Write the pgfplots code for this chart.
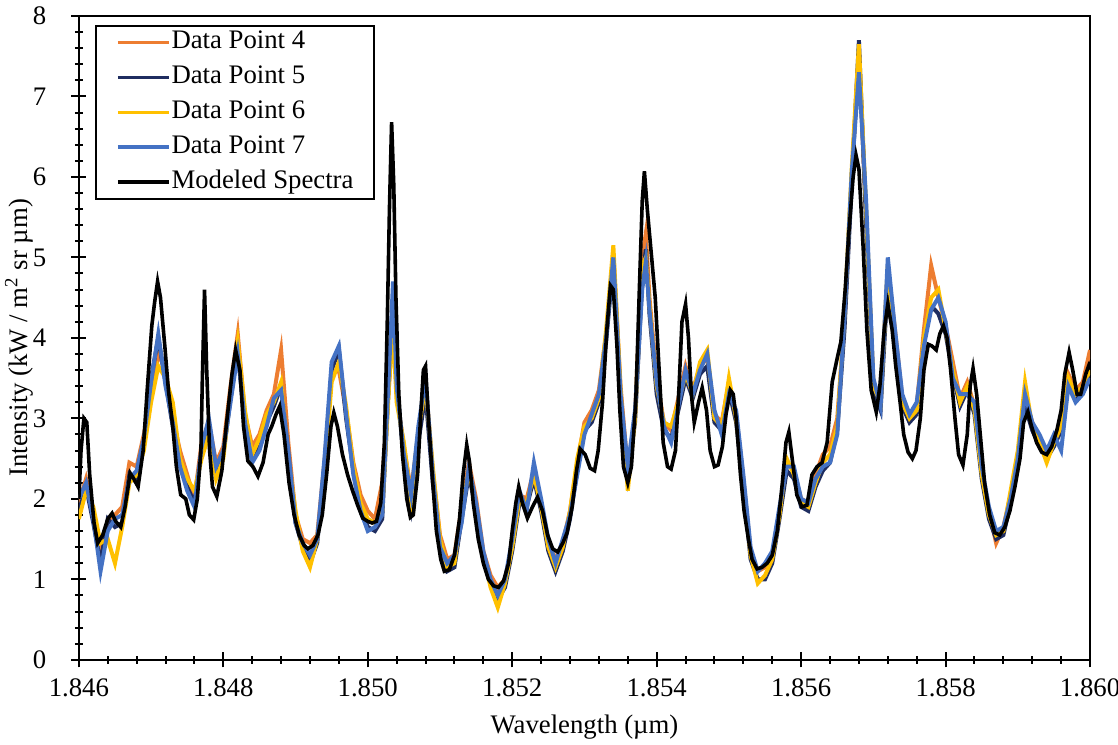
\documentclass[border=0pt]{standalone}
\usepackage{fontspec}
\setmainfont{Liberation Serif}
\usepackage{pgfplots}
\usepackage{pgfplotstable}
\pgfplotsset{compat=1.18}
\definecolor{c4}{RGB}{237,125,49}
\definecolor{c5}{RGB}{31,45,96}
\definecolor{c6}{RGB}{255,192,0}
\definecolor{c7}{RGB}{68,114,196}

\pgfplotstableread{
x d4 d5 d6 d7
1.8460 1.95 1.85 1.75 2.0
1.8461 2.25 2.15 2.1 2.2
1.8462 1.85 1.7 1.9 1.75
1.8463 1.35 1.2 1.45 1.1
1.8464 1.7 1.75 1.5 1.6
1.8465 1.8 1.65 1.2 1.75
1.8466 1.9 1.7 1.65 1.8
1.8467 2.45 2.3 2.2 2.25
1.8468 2.4 2.2 2.3 2.35
1.8469 2.8 2.65 2.6 2.75
1.8470 3.3 3.5 3.2 3.45
1.8471 3.8 4.0 3.65 4.05
1.8472 3.6 3.45 3.5 3.4
1.8473 3.0 2.9 3.2 2.95
1.8474 2.6 2.45 2.5 2.4
1.8475 2.3 2.15 2.25 2.1
1.8476 2.0 1.95 2.1 1.9
1.8477 2.7 2.6 2.5 2.65
1.8478 2.95 2.85 2.8 3.0
1.8479 2.45 2.3 2.25 2.4
1.8480 2.65 2.55 2.5 2.6
1.8481 3.4 3.25 3.3 3.2
1.8482 4.05 3.85 3.95 3.8
1.8483 3.05 2.9 3.1 2.95
1.8484 2.65 2.5 2.55 2.45
1.8485 2.8 2.65 2.75 2.6
1.8486 3.1 2.95 3.05 2.9
1.8487 3.3 3.15 3.2 3.25
1.8488 3.85 3.4 3.45 3.35
1.8489 2.7 2.55 2.5 2.6
1.8490 1.8 1.7 1.85 1.7
1.8491 1.5 1.4 1.35 1.45
1.8492 1.45 1.2 1.15 1.3
1.8493 1.55 1.45 1.5 1.5
1.8494 2.45 2.35 2.3 2.5
1.8495 3.55 3.6 3.45 3.7
1.8496 3.6 3.85 3.7 3.9
1.8497 3.1 3.0 3.15 3.05
1.8498 2.45 2.35 2.4 2.3
1.8499 2.05 1.9 1.95 1.85
1.8500 1.85 1.65 1.75 1.6
1.8501 1.75 1.6 1.7 1.65
1.8502 2.2 1.75 1.85 1.8
1.8503 3.5 3.6 3.5 3.7
1.85035 4.3 4.5 4.1 4.7
1.8504 3.3 3.4 3.2 3.4
1.8505 2.65 2.5 2.7 2.55
1.8506 2.1 1.9 2.0 2.05
1.8507 2.8 2.7 2.85 2.9
1.8508 3.45 3.3 3.4 3.5
1.8509 2.35 2.2 2.4 2.3
1.8510 1.55 1.45 1.5 1.4
1.8511 1.25 1.1 1.15 1.2
1.8512 1.3 1.15 1.2 1.3
1.8513 1.9 1.75 1.85 1.7
1.8514 2.45 2.3 2.35 2.4
1.8515 2.0 1.85 1.9 1.95
1.8516 1.35 1.25 1.3 1.35
1.8517 1.05 0.95 0.9 1.0
1.8518 0.9 0.75 0.65 0.8
1.8519 1.0 0.9 0.95 1.0
1.8520 1.45 1.35 1.4 1.5
1.8521 2.05 1.95 2.0 2.1
1.8522 2.0 1.9 1.95 1.85
1.8523 2.35 2.25 2.3 2.45
1.8524 1.95 1.85 1.9 2.0
1.8525 1.45 1.35 1.4 1.5
1.8526 1.25 1.1 1.15 1.2
1.8527 1.45 1.35 1.4 1.5
1.8528 1.85 1.75 1.85 1.8
1.8529 2.45 2.35 2.5 2.3
1.8530 2.95 2.85 2.9 2.8
1.8531 3.1 2.95 3.0 3.05
1.8532 3.35 3.2 3.25 3.3
1.8533 4.05 3.95 4.1 4.0
1.8534 5.05 4.95 5.15 5.0
1.8535 3.4 3.25 3.35 3.3
1.8536 2.35 2.3 2.1 2.4
1.8537 3.05 2.95 3.0 3.1
1.8538 5.0 4.7 4.9 4.6
1.85385 5.3 5.1 5.0 4.95
1.8539 4.5 4.3 4.4 4.35
1.8540 3.5 3.3 3.4 3.45
1.8541 2.95 2.85 2.95 2.9
1.8542 2.85 2.75 2.9 2.7
1.8543 3.25 3.1 3.2 3.15
1.8544 3.65 3.5 3.55 3.6
1.8545 3.35 3.25 3.3 3.3
1.8546 3.65 3.55 3.7 3.6
1.8547 3.75 3.65 3.85 3.8
1.8548 3.05 2.95 3.0 3.1
1.8549 2.95 2.85 2.9 2.8
1.8550 3.45 3.35 3.5 3.3
1.8551 3.05 2.95 3.0 3.1
1.8552 2.25 2.15 2.2 2.3
1.8553 1.35 1.25 1.3 1.4
1.8554 1.1 1.0 0.95 1.1
1.8555 1.15 1.0 1.05 1.2
1.8556 1.3 1.2 1.25 1.35
1.8557 1.85 1.75 1.8 1.9
1.8558 2.45 2.35 2.5 2.4
1.8559 2.35 2.25 2.3 2.4
1.8560 2.0 1.9 1.95 2.0
1.8561 1.95 1.85 1.9 1.95
1.8562 2.3 2.15 2.2 2.25
1.8563 2.55 2.35 2.45 2.4
1.8564 2.65 2.45 2.55 2.45
1.8565 3.0 2.85 2.9 2.8
1.8566 4.2 4.1 4.3 4.25
1.8567 6.0 5.9 6.1 6.05
1.8568 7.55 7.7 7.65 7.3
1.8569 5.5 5.4 5.6 5.7
1.8570 3.45 3.35 3.4 3.5
1.8571 3.25 3.1 3.2 3.15
1.8572 4.85 4.7 4.9 5.0
1.8573 4.1 3.95 4.0 4.1
1.8574 3.25 3.15 3.2 3.3
1.8575 3.05 2.95 3.0 3.05
1.8576 3.15 3.05 3.1 3.2
1.8577 4.1 3.95 4.0 3.9
1.8578 4.9 4.4 4.5 4.35
1.8579 4.5 4.3 4.6 4.5
1.8580 4.15 4.05 4.1 4.2
1.8581 3.7 3.55 3.6 3.5
1.8582 3.25 3.15 3.2 3.3
1.8583 3.45 3.35 3.4 3.3
1.8584 3.15 3.05 3.1 3.2
1.8585 2.35 2.25 2.3 2.4
1.8586 1.85 1.75 1.8 1.9
1.8587 1.45 1.5 1.55 1.6
1.8588 1.65 1.55 1.6 1.65
1.8589 2.05 1.95 2.1 2.0
1.8590 2.55 2.45 2.6 2.5
1.8591 3.25 3.15 3.45 3.3
1.8592 2.95 2.85 2.9 2.95
1.8593 2.75 2.65 2.7 2.8
1.8594 2.6 2.5 2.45 2.6
1.8595 2.75 2.65 2.7 2.8
1.8596 2.95 2.85 2.9 2.6
1.8597 3.55 3.45 3.5 3.4
1.8598 3.35 3.25 3.3 3.2
1.8599 3.45 3.35 3.4 3.3
1.8600 3.85 3.55 3.6 3.5
}\datatab

\pgfplotstableread{
x y
1.84600 2.0
1.84603 2.6
1.84607 3.0
1.84611 2.95
1.84615 2.3
1.84621 1.7
1.84626 1.45
1.84633 1.55
1.84640 1.75
1.84646 1.82
1.84651 1.72
1.84658 1.65
1.84664 1.9
1.84671 2.32
1.84676 2.25
1.84682 2.15
1.84689 2.6
1.84695 3.4
1.84701 4.15
1.84705 4.45
1.84709 4.7
1.84713 4.5
1.84719 3.9
1.84724 3.35
1.84730 2.9
1.84735 2.4
1.84741 2.05
1.84748 2.0
1.84753 1.8
1.84759 1.74
1.84764 2.0
1.84769 2.6
1.84771 3.5
1.84774 4.6
1.84777 3.6
1.84781 2.6
1.84785 2.15
1.84791 2.03
1.84798 2.35
1.84804 2.9
1.84812 3.55
1.84817 3.85
1.84823 3.6
1.84828 2.9
1.84834 2.47
1.84841 2.4
1.84848 2.28
1.84855 2.45
1.84862 2.8
1.84867 2.9
1.84873 3.05
1.84878 3.15
1.84884 2.8
1.84891 2.2
1.84898 1.8
1.84905 1.55
1.84912 1.42
1.84917 1.38
1.84924 1.42
1.84931 1.55
1.84937 1.8
1.84943 2.3
1.84949 2.9
1.84953 3.07
1.84958 2.9
1.84965 2.55
1.84972 2.3
1.84979 2.1
1.84986 1.92
1.84993 1.76
1.85000 1.72
1.85006 1.7
1.85012 1.72
1.85018 1.95
1.85023 2.7
1.85027 4.2
1.85030 5.6
1.85033 6.68
1.85036 5.9
1.85039 4.5
1.85043 3.3
1.85048 2.55
1.85054 2.0
1.85059 1.77
1.85063 1.8
1.85069 2.3
1.85073 3.0
1.85077 3.6
1.85080 3.65
1.85084 3.0
1.85090 2.2
1.85095 1.6
1.85101 1.25
1.85106 1.1
1.85113 1.12
1.85120 1.3
1.85127 1.75
1.85132 2.3
1.85137 2.67
1.85141 2.45
1.85146 1.95
1.85153 1.5
1.85160 1.2
1.85167 1.0
1.85174 0.92
1.85181 0.9
1.85188 0.98
1.85195 1.2
1.85200 1.6
1.85205 1.95
1.85209 2.15
1.85214 1.95
1.85221 1.76
1.85228 1.9
1.85235 2.02
1.85242 1.85
1.85249 1.55
1.85256 1.38
1.85263 1.34
1.85270 1.45
1.85276 1.58
1.85283 1.9
1.85289 2.35
1.85294 2.62
1.85301 2.55
1.85308 2.38
1.85314 2.35
1.85319 2.6
1.85325 3.2
1.85331 4.1
1.85336 4.65
1.85340 4.6
1.85345 3.9
1.85349 3.1
1.85354 2.4
1.85360 2.2
1.85365 2.4
1.85371 3.2
1.85376 4.6
1.85380 5.7
1.85383 6.07
1.85387 5.6
1.85393 5.0
1.85398 4.5
1.85404 3.5
1.85409 2.7
1.85415 2.4
1.85420 2.37
1.85426 2.6
1.85431 3.4
1.85435 4.2
1.85440 4.42
1.85444 4.0
1.85448 3.3
1.85452 2.95
1.85458 3.2
1.85463 3.38
1.85469 3.1
1.85474 2.6
1.85480 2.4
1.85485 2.42
1.85491 2.65
1.85496 3.05
1.85502 3.35
1.85506 3.3
1.85510 3.0
1.85516 2.3
1.85521 1.85
1.85527 1.5
1.85532 1.25
1.85539 1.13
1.85546 1.15
1.85553 1.2
1.85560 1.3
1.85567 1.6
1.85574 2.2
1.85579 2.7
1.85583 2.83
1.85589 2.4
1.85594 2.05
1.85601 1.9
1.85608 1.92
1.85615 2.3
1.85622 2.4
1.85629 2.45
1.85636 2.7
1.85643 3.45
1.85650 3.75
1.85655 3.95
1.85661 4.6
1.85666 5.3
1.85672 6.0
1.85676 6.27
1.85680 6.1
1.85686 5.1
1.85691 4.1
1.85697 3.35
1.85704 3.08
1.85709 3.4
1.85715 4.1
1.85720 4.42
1.85726 4.1
1.85731 3.65
1.85737 3.2
1.85742 2.8
1.85748 2.58
1.85754 2.5
1.85759 2.6
1.85765 3.0
1.85770 3.6
1.85776 3.92
1.85781 3.9
1.85787 3.85
1.85792 4.05
1.85797 4.15
1.85802 4.0
1.85807 3.6
1.85813 3.0
1.85818 2.55
1.85824 2.42
1.85830 2.8
1.85834 3.4
1.85838 3.62
1.85843 3.3
1.85849 2.7
1.85854 2.2
1.85861 1.8
1.85868 1.58
1.85875 1.55
1.85882 1.65
1.85889 1.85
1.85896 2.15
1.85903 2.5
1.85908 2.95
1.85914 3.08
1.85919 2.9
1.85926 2.7
1.85933 2.58
1.85940 2.55
1.85947 2.65
1.85954 2.85
1.85960 3.1
1.85965 3.55
1.85971 3.82
1.85976 3.6
1.85982 3.3
1.85987 3.3
1.85994 3.55
1.86000 3.7
}\modeltab

\newcommand{\cf}{\fontsize{13.4}{16}\selectfont}

\begin{document}
\begin{tikzpicture}
\begin{axis}[
  scale only axis,
  width=506.5pt, height=322.5pt,
  xmin=1.846, xmax=1.860, ymin=0, ymax=8,
  xtick={1.846,1.848,1.850,1.852,1.854,1.856,1.858,1.860},
  ytick={0,1,2,3,4,5,6,7,8},
  minor x tick num=4, minor y tick num=4,
  xtick pos=left, ytick pos=left,
  tick align=center,
  major tick length=7.5pt, minor tick length=4pt,
  axis line style={line width=1pt},
  every tick/.style={black, line width=1pt},
  /pgf/number format/assume math mode=true,
  scaled x ticks=false,
  tick label style={font=\cf},
  xticklabel style={/pgf/number format/.cd, fixed, fixed zerofill, precision=3},
  xticklabel shift=2pt,
  yticklabel shift=9pt,
  xlabel={Wavelength (µm)},
  ylabel={Intensity (kW / m\textsuperscript{2} sr µm)},
  label style={font=\cf},
  xlabel style={at={(axis description cs:0.5,-0.1147)}, anchor=base},
  ylabel style={at={(axis description cs:-0.059,0.5)}, anchor=center},
  legend style={at={(0.016,0.986)}, anchor=north west, draw=black, line width=1pt,
    fill=white, font=\cf, inner xsep=10pt, inner ysep=1pt, row sep=3pt,
    nodes={inner xsep=0.5pt, inner ysep=1pt, text height=9.5pt, text depth=3pt, anchor=west}},
  legend cell align=left,
  legend image code/.code={\draw[#1, line width=1.8pt] (0pt,0pt) -- (25.5pt,0pt);},
]
\addplot[c4, line width=2pt] table[x=x, y=d4] {\datatab};
\addlegendentry{Data Point 4}
\addplot[c5, line width=2pt] table[x=x, y=d5] {\datatab};
\addlegendentry{Data Point 5}
\addplot[c6, line width=2pt] table[x=x, y=d6] {\datatab};
\addlegendentry{Data Point 6}
\addplot[c7, line width=2pt] table[x=x, y=d7] {\datatab};
\addlegendentry{Data Point 7}
\addplot[black, line width=1.8pt] table[x=x, y=y] {\modeltab};
\addlegendentry{Modeled Spectra}
\end{axis}
\pgfresetboundingbox
\useasboundingbox ([xshift=-39.5pt,yshift=-42.5pt]current axis.south west) rectangle ([xshift=14pt,yshift=8pt]current axis.north east);
\end{tikzpicture}
\end{document}
